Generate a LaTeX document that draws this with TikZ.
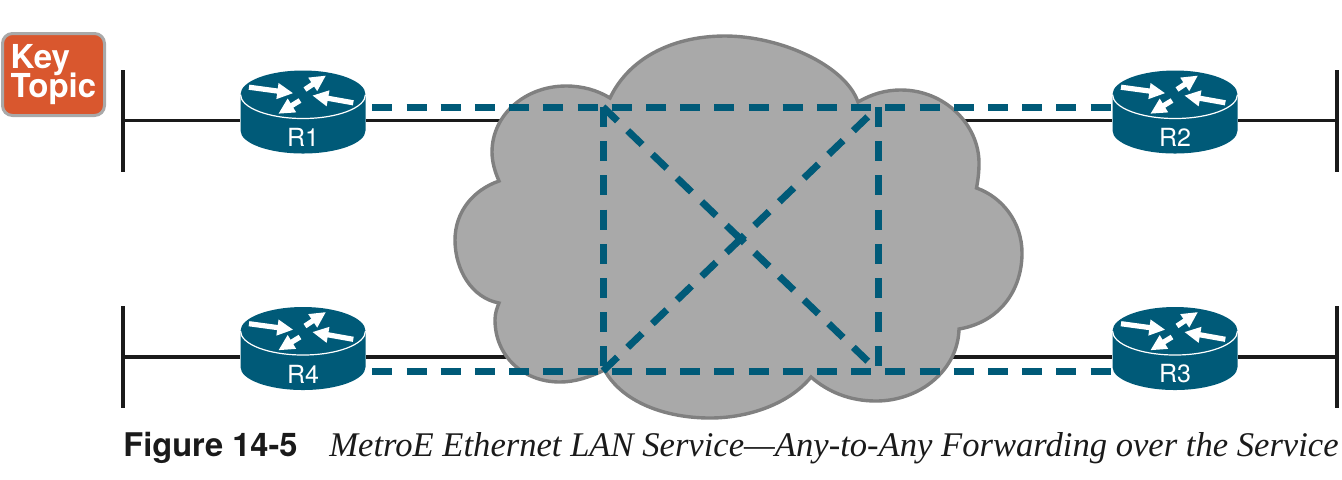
\documentclass[tikz,border=0pt]{standalone}
\usepackage{fontspec}
\setmainfont{Liberation Serif}
\newfontfamily\headfont{TeX Gyre Heros}
\usepackage{tikz}
\usetikzlibrary{positioning, arrows.meta, calc}

\definecolor{routercol}{HTML}{005A78}
\definecolor{cloudcol}{HTML}{A9A9A9}
\definecolor{cloudedge}{HTML}{808080}
\definecolor{wirecol}{HTML}{1A1A1A}
\definecolor{keycol}{HTML}{D9572E}

\tikzset{
    lanbar/.style={fill=wirecol, minimum width=1.7pt, minimum height=51pt, inner sep=0pt},
    wire/.style={wirecol, line width=1.7pt},
    routerbox/.style={minimum width=62.5pt, minimum height=33pt, inner sep=0pt},
    routername/.style={text=white, font=\headfont\fontsize{12.5}{12.5}\selectfont, inner sep=0pt},
    routerarrow/.style={white, line width=2.6pt, -{Triangle[length=8pt, width=7.5pt]}},
    vc/.style={routercol, line width=3.5pt, dash pattern=on 10pt off 7.1pt},
}

\def\tikrouter#1#2#3{%
    \node[routerbox] (#1) at (#2,#3) {};
    \begin{scope}[shift={(#1)}]
        \fill[routercol] (-62.5,-26) -- (-62.5,10)
            arc[start angle=180, end angle=0, x radius=62.5, y radius=23]
            -- (62.5,-26) -- cycle;
        \fill[routercol] (0,-26) ellipse[x radius=62.5, y radius=24];
        \draw[white, line width=0.6pt] (-62.5,-26)
            arc[start angle=180, end angle=0, x radius=62.5, y radius=24];
        \draw[routerarrow] (-54,-33.3) -- (-9.7,-27.3);
        \draw[routerarrow] (2,-31) -- (23,-45);
        \draw[routerarrow] (50.3,-17.7) -- (9.3,-25);
        \draw[routerarrow] (-3,-20) -- (-24.7,-6.7);
        \node[routername] (#1name) at (0,17) {#1};
    \end{scope}
}

\begin{document}
\begin{tikzpicture}[x=0.5pt, y=-0.5pt]
    \useasboundingbox (0,0) rectangle (1342,479);

    % lan segments
    \foreach \lan/\x/\y in {L1/123/120.5, L2/1337/120.5, L3/1337/357, L4/123/357}
    {
        \node[lanbar] (\lan) at (\x,\y) {};
    }

    % routers sit on top of the wires, so place them first as boxes
    \node[routerbox] (W1) at (303,120.5) {};
    \node[routerbox] (W2) at (1175,120.5) {};
    \node[routerbox] (W3) at (1175,357) {};
    \node[routerbox] (W4) at (303,357) {};
    \draw[wire] (L1) -- (W1) -- (W2) -- (L2);
    \draw[wire] (L4) -- (W4) -- (W3) -- (L3);

    % cloud
    \draw[fill=cloudcol, draw=cloudedge, line width=1.7pt]
        (610,98) .. controls (628,60) and (670,36) .. (725,36)
        .. controls (780,36) and (845,65) .. (858,102)
        .. controls (872,94) and (885,90) .. (901,90)
        .. controls (945,90) and (979,125) .. (979,163)
        .. controls (979,172) and (978,180) .. (976.5,188)
        .. controls (1002,197) and (1022,222) .. (1022,253)
        .. controls (1022,290) and (1000,322) .. (959,329)
        .. controls (958,370) and (920,401) .. (876,401)
        .. controls (850,401) and (828,392) .. (811,377)
        .. controls (790,403) and (750,418) .. (710,418)
        .. controls (665,418) and (622,402) .. (604.5,370)
        .. controls (590,377) and (575,382) .. (560,382)
        .. controls (522,382) and (495,355) .. (495,320)
        .. controls (495,313) and (497,308) .. (499,303)
        .. controls (472,298) and (455,270) .. (455,240)
        .. controls (455,212) and (473,190) .. (499,181)
        .. controls (495,172) and (492,162) .. (492,152)
        .. controls (492,115) and (525,86) .. (566,86)
        .. controls (582,86) and (597,90) .. (610,98) -- cycle;

    % routers
    \tikrouter{R1}{303}{120.5}
    \tikrouter{R2}{1175}{120.5}
    \tikrouter{R3}{1175}{357}
    \tikrouter{R4}{303}{357}

    % virtual circuits
    \coordinate (c1) at (603,107);
    \coordinate (c2) at (878,107);
    \coordinate (c3) at (878,371);
    \coordinate (c4) at (603,371);
    \coordinate (mid) at (740.5,239);

    \draw[vc, shorten <=3.2pt] (R1.east |- c1) -- (R2.west |- c1);
    \draw[vc, shorten <=3.2pt] (R4.east |- c4) -- (R3.west |- c4);
    \draw[vc] (c1) -- (c4);
    \draw[vc] (c2) -- (c3);
    \draw[vc] (c1) -- (mid);
    \draw[vc] (c4) -- (mid);
    \draw[vc, dash phase=10pt] (c2) -- (mid);
    \draw[vc, dash phase=10pt] (c3) -- (mid);

    % key topic badge
    \node[fill=keycol, draw=cloudcol, line width=1.5pt, rounded corners=5pt,
          minimum width=51pt, minimum height=41pt, inner sep=0pt, align=left, text=white,
          font=\headfont\bfseries\fontsize{16.5}{13.7}\selectfont] (key) at (53.5,74.5) {Key\\[-2.5pt]Topic};

    % caption
    \node[anchor=base west, inner sep=0pt, text=wirecol,
          font=\headfont\bfseries\fontsize{16.3}{16.3}\selectfont] (figno) at (123,456) {Figure 14-5};
    \node[anchor=base west, inner sep=0pt, text=wirecol,
          font=\itshape\fontsize{17.3}{17.3}\selectfont] (figcap) at (329,456)
          {MetroE Ethernet LAN Service---Any-to-Any Forwarding over the Service};
\end{tikzpicture}
\end{document}
